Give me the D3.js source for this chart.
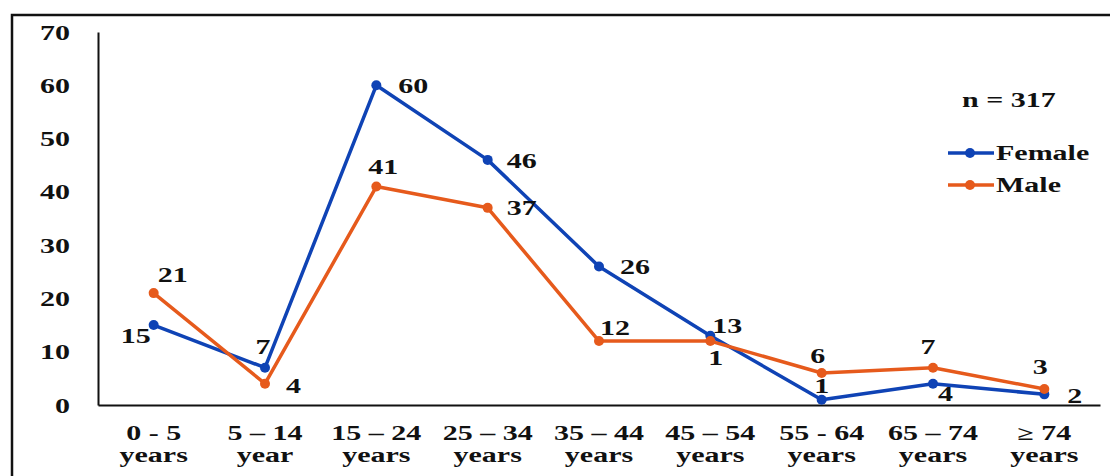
<!DOCTYPE html>
<html>
<head>
<meta charset="utf-8">
<script src="https://cdn.jsdelivr.net/npm/d3@7"></script>
<style>
  html, body { margin: 0; padding: 0; background: #fff; }
  svg { display: block; }
  text { font-family: "Liberation Serif", "Times New Roman", serif; font-weight: bold; fill: #111; font-size: 20px; }
</style>
</head>
<body>
<svg id="chart" width="1110" height="476"></svg>
<script>
// Age groups (two-line tick labels)
const categories = ["0 - 5|years", "5 – 14|year", "15 – 24|years", "25 – 34|years", "35 – 44|years",
                    "45 – 54|years", "55 - 64|years", "65 – 74|years", "≥ 74|years"];
const femaleValues = [15, 7, 60, 46, 26, 13, 1, 4, 2];
const maleValues   = [21, 4, 41, 37, 12, 12, 6, 7, 3];
const yTicks = [0, 10, 20, 30, 40, 50, 60, 70];
const sampleNote = "n = 317";

// Label placement relative to each point: [dx, dy, anchor, visible characters]
const femaleLabelPos = [[-3, 18, "end"], [-2, -14, "middle"], [22, 8, "start"], [19, 8, "start"],
                        [21, 8, "start"], [2, -3, "start"], [0, -7, "middle"], [5, 17, "start"], [23, 9, "start"]];
const maleLabelPos   = [[4, -11, "start"], [21, 9, "start"], [7, -13, "middle"], [19, 7, "start"],
                        [1, -6, "start"], [-2, 24, "start", 1], [-4, -10, "middle"], [-5, -14, "middle"], [-4, -15, "middle"]];

const series = [
  { name: "Female", values: femaleValues, color: "#0f43b5", labels: femaleLabelPos },
  { name: "Male",   values: maleValues,   color: "#e65a1c", labels: maleLabelPos }
];

// All text is set in a wide (horizontally stretched) serif
const STRETCH = 1.5;
const place = (sel, px, py) => sel.attr("x", 0).attr("y", 0)
  .attr("transform", `translate(${px},${py}) scale(${STRETCH},1)`);

const svg = d3.select("#chart");

// Frame
svg.append("path")
  .attr("d", "M12,476 V15 H1110")
  .attr("fill", "none").attr("stroke", "#111").attr("stroke-width", 2.5);

const x = d3.scaleBand().domain(categories).range([98, 1100]).padding(0);
const cx = c => x(c) + x.bandwidth() / 2;
const y = d3.scaleLinear().domain([0, 70]).range([405, 32]);

// Y axis
const yAxis = svg.append("g").attr("transform", "translate(98,0)")
  .call(d3.axisLeft(y).tickValues(yTicks).tickSize(0).tickSizeOuter(0));
yAxis.select(".domain").attr("stroke", "#111").attr("stroke-width", 2);
yAxis.selectAll(".tick text").each(function() {
  place(d3.select(this), -28, 0)
    .attr("dy", "0.35em").attr("text-anchor", "end")
    .style("font-size", null).style("font-family", null);
});
yAxis.attr("font-size", null).attr("font-family", null);

// X axis
const xAxis = svg.append("g").attr("transform", "translate(0,405)")
  .call(d3.axisBottom(x).tickSize(0).tickSizeOuter(0).tickFormat(() => ""));
xAxis.attr("font-size", null).attr("font-family", null);
xAxis.select(".domain").attr("stroke", "#111").attr("stroke-width", 2);
xAxis.selectAll(".tick text").each(function(d) {
  const parts = d.split("|");
  const tick = d3.select(this.parentNode);
  d3.select(this).remove();
  parts.forEach((p, k) => {
    place(tick.append("text"), 0, k === 0 ? 35 : 57)
      .attr("text-anchor", "middle").text(p);
  });
});

// Lines, markers and value labels
const line = d3.line().x((v, i) => cx(categories[i])).y(v => y(v));
const defs = svg.append("defs");

series.forEach((s, si) => {
  svg.append("path").datum(s.values)
    .attr("d", line).attr("fill", "none")
    .attr("stroke", s.color).attr("stroke-width", 3.5).attr("stroke-linejoin", "round");

  svg.selectAll(null).data(s.values).enter().append("circle")
    .attr("cx", (v, i) => cx(categories[i])).attr("cy", v => y(v))
    .attr("r", 5).attr("fill", s.color);

  s.values.forEach((v, i) => {
    const p = s.labels[i];
    const px = cx(categories[i]) + p[0], py = y(v) + p[1];
    const holder = svg.append("g");
    place(holder.append("text"), px, py)
      .attr("text-anchor", p[2])
      .text(String(v));
    if (p[3]) {
      // show only the leading digits of this label
      const id = "clip-" + si + "-" + i;
      defs.append("clipPath").attr("id", id).append("rect")
        .attr("x", px - 2).attr("y", py - 20).attr("width", 15 * p[3] + 2).attr("height", 26);
      holder.attr("clip-path", "url(#" + id + ")");
    }
  });
});

// Sample size note
place(svg.append("text"), 962, 107).text(sampleNote);

// Legend
const legend = svg.append("g").attr("transform", "translate(948,153)");
series.forEach((s, i) => {
  const g = legend.append("g").attr("transform", `translate(0,${i * 32})`);
  g.append("line").attr("x1", 0).attr("x2", 46).attr("y1", 0).attr("y2", 0)
    .attr("stroke", s.color).attr("stroke-width", 3.5);
  g.append("circle").attr("cx", 22).attr("cy", 0).attr("r", 5).attr("fill", s.color);
  place(g.append("text"), 48, 7).text(s.name);
});
</script>
</body>
</html>
